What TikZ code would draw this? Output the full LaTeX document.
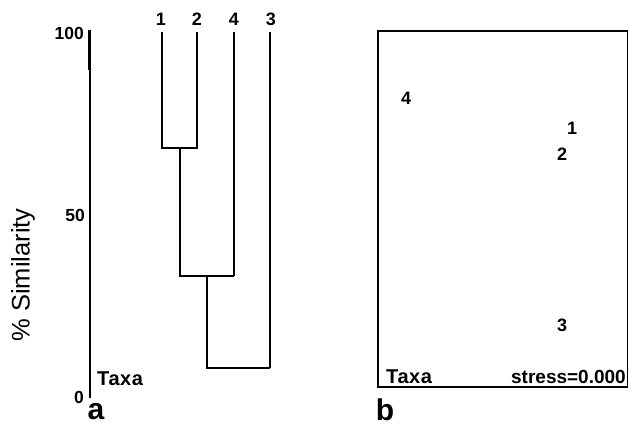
\documentclass[tikz,border=0pt]{standalone}
\usepackage{fontspec}
\setmainfont{Liberation Sans}
\begin{document}
\begin{tikzpicture}[x=1pt,y=-1pt,
  lab/.style={inner sep=0pt,font=\bfseries\fontsize{18}{18}\selectfont},
  axlab/.style={inner sep=0pt,font=\bfseries\fontsize{17.5}{17.5}\selectfont},
  taxalab/.style={inner sep=0pt,font=\bfseries\fontsize{20}{20}\selectfont\addfontfeature{LetterSpace=3}},
  big/.style={inner sep=0pt,font=\bfseries\fontsize{30}{30}\selectfont},
  thickln/.style={line width=2.1pt},
  thinln/.style={line width=1.2pt}]
\useasboundingbox (0,0) rectangle (629,426);
% panel a: axis
\coordinate (axtop) at (89.5,30);
\coordinate (axbot) at (89.5,398);
\draw[line width=2.4pt] (axtop) -- (89.5,70);
\draw[line width=2pt] (89.5,70) -- (axbot);
\node[axlab,anchor=east] (t100) at (84,33) {100};
\node[axlab,anchor=east] (t50) at (85,215) {50};
\node[axlab,anchor=east] (t0) at (84,397) {0};
\node[inner sep=0pt,rotate=90,font=\fontsize{25.5}{25.5}\selectfont] (ylab) at (23,275) {\% Similarity};
\node[taxalab,anchor=west] (taxaA) at (97,379) {Taxa};
\node[big] (pa) at (96,412) {a};
% leaves
\node[lab] (n1) at (161,19) {1};
\node[lab] (n2) at (197,19) {2};
\node[lab] (n4) at (234,19) {4};
\node[lab] (n3) at (271,19) {3};
\coordinate (l1) at (162,32);
\coordinate (l2) at (197,32);
\coordinate (l4) at (234,32);
\coordinate (l3) at (270,32);
\coordinate (m12) at (180,148);
\coordinate (m124) at (207,276);
\coordinate (mall) at (238,368);
\draw[thickln] (l1) -- (l1 |- m12) -- (l2 |- m12) -- (l2);
\draw[thickln] (m12) -- (180,192);
\draw[thinln] (180,192) -- (180,276) -- (l4 |- m124);
\draw[thickln] (l4) -- (234,202);
\draw[thinln] (234,202) -- (l4 |- m124);
\draw[thinln] (207,276) -- (207,368) -- (l3 |- mall);
\draw[thickln] (l3) -- (270,80);
\draw[thinln] (270,80) -- (l3 |- mall);
% panel b
\coordinate (bTL) at (378,31);
\coordinate (bBR) at (627.5,387);
\draw[thinln] (bTL) rectangle (bBR);
\draw[thickln] (bTL) -- (bBR |- bTL);
\draw[thickln] (bTL) -- (378,80);
\node[lab] (p4) at (406,98) {4};
\node[lab] (p1) at (572,128) {1};
\node[lab] (p2) at (562,154) {2};
\node[lab] (p3) at (562,325) {3};
\node[taxalab,anchor=west] (taxaB) at (386,377) {Taxa};
\node[inner sep=0pt,anchor=east,font=\bfseries\fontsize{19}{19}\selectfont] (stress) at (626,377) {stress=0.000};
\node[big] (pb) at (385,410) {b};
\end{tikzpicture}
\end{document}
